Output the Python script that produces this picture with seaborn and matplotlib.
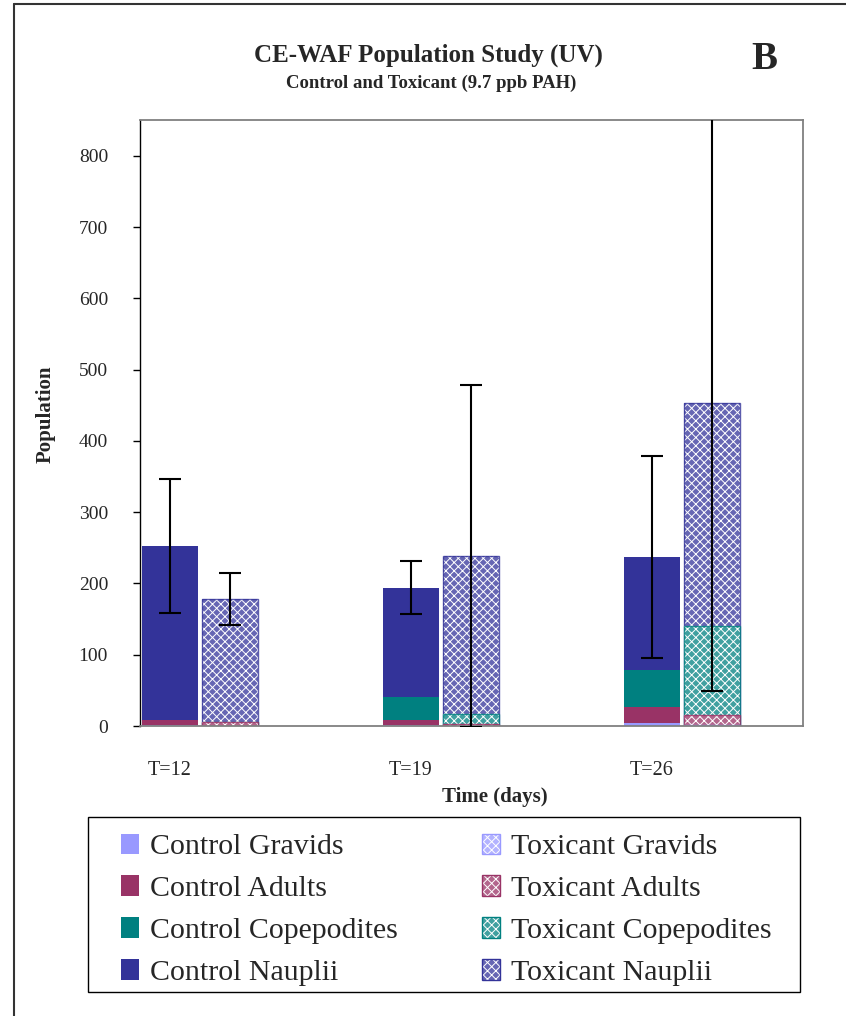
import numpy as np
import pandas as pd
import seaborn as sns
import matplotlib.pyplot as plt
import matplotlib.patches as mpatches
from matplotlib.colors import to_rgb
from matplotlib.lines import Line2D
from matplotlib.legend_handler import HandlerTuple

# donnees
times = ["T=12", "T=19", "T=26"]
groups = ["Control", "Toxicant"]
stages = ["Gravids", "Adults", "Copepodites", "Nauplii"]

control_gravids = [1, 1, 4]
control_adults = [8, 8, 22]
control_copepodites = [0, 32, 52]
control_nauplii = [244, 153, 159]

toxicant_gravids = [0, 0, 1]
toxicant_adults = [6, 3, 15]
toxicant_copepodites = [0, 14, 124]
toxicant_nauplii = [172, 221, 313]

control_err = [94, 37, 142]
toxicant_err = [36, 240, 404]

colors = {"Gravids": "#9999FF", "Adults": "#993366",
          "Copepodites": "#008080", "Nauplii": "#333399"}

sns.set_style("white")
plt.rcParams['font.family'] = ['Liberation Serif', 'DejaVu Serif']
plt.rcParams['hatch.linewidth'] = 0.7
HATCH = "xxxx"


def lighter(c, f=0.25):
    r = np.array(to_rgb(c))
    return tuple(r + (1 - r) * f)


# table longue avec les valeurs cumulees
rows = []
ctrl = [control_gravids, control_adults, control_copepodites, control_nauplii]
tox = [toxicant_gravids, toxicant_adults, toxicant_copepodites, toxicant_nauplii]
for g, layers in zip(groups, [ctrl, tox]):
    cum = np.cumsum(np.array(layers), axis=0)
    for si, s in enumerate(stages):
        for ti, t in enumerate(times):
            rows.append({"time": t, "group": g, "stage": s, "cum": cum[si, ti]})
df = pd.DataFrame(rows)

fig = plt.figure(figsize=(8.46, 10.16), dpi=100)
ax = fig.add_axes([0.1655, 0.2854, 0.7837, 0.5964])

# on dessine du haut vers le bas pour empiler
for s in reversed(stages):
    sub = df[df["stage"] == s]
    c = colors[s]
    sns.barplot(data=sub, x="time", y="cum", hue="group", hue_order=groups,
                order=times, palette=[c, c], width=0.5, gap=0.08, dodge=True,
                saturation=1, linewidth=0, legend=False, errorbar=None, ax=ax)
    for p in ax.containers[-1]:
        p.set_facecolor(lighter(c))
        p.set_edgecolor("white")
        p.set_linewidth(0)
        p.set_hatch(HATCH)
        ax.add_patch(mpatches.Rectangle((p.get_x(), p.get_y()), p.get_width(),
                                        p.get_height(), fill=False,
                                        edgecolor=c, lw=1.0, alpha=0.8))

# barres d'erreur au sommet des piles
top = df[df["stage"] == "Nauplii"]
first = ax.containers[0], ax.containers[1]
for cont, g, err in zip(first, groups, [control_err, toxicant_err]):
    xs = [p.get_x() + p.get_width() / 2 for p in cont]
    ys = top[top["group"] == g].set_index("time").loc[times, "cum"].values
    ax.errorbar(xs, ys, yerr=err, fmt="none", ecolor="black", elinewidth=1.5,
                capsize=8, capthick=1.5, zorder=5)

ax.set_ylim(0, 850)
ax.set_xlim(-0.249, 2.502)
ax.set_yticks(range(0, 900, 100))
ax.set_xticks([i - 0.125 for i in range(3)])
ax.set_xticklabels(times)
ax.tick_params(axis="y", direction="out", length=5, width=1, color="black",
               labelsize=14, pad=18, left=True)
ax.tick_params(axis="x", length=0, labelsize=14.5, pad=25)

for side in ["top", "right", "bottom"]:
    ax.spines[side].set_color("#808080")
    ax.spines[side].set_linewidth(1.3)
ax.spines["left"].set_color("black")
ax.spines["left"].set_linewidth(1.0)

ax.set_xlabel("Time (days)", fontsize=15, fontweight="bold")
ax.xaxis.set_label_coords(0.535, -0.1005)
ax.set_ylabel("Population", fontsize=15, fontweight="bold")
ax.yaxis.set_label_coords(-0.128, 0.514)

fig.text(0.506, 0.946, "CE-WAF Population Study (UV)", ha="center", va="center",
         fontsize=18, fontweight="bold")
fig.text(0.51, 0.918, "Control and Toxicant (9.7 ppb PAH)", ha="center",
         va="center", fontsize=13.5, fontweight="bold")
fig.text(0.903, 0.941, "B", ha="center", va="center", fontsize=28,
         fontweight="bold")

# legende : cadre dessine a part
fig.add_artist(mpatches.Rectangle((0.104, 0.0236), 0.8416, 0.172,
                                  transform=fig.transFigure, fill=False,
                                  edgecolor="black", lw=1.0))
handles, labels = [], []
for s in stages:
    handles.append(mpatches.Patch(facecolor=colors[s], lw=0))
    labels.append("Control " + s)
for s in stages:
    h1 = mpatches.Patch(facecolor=lighter(colors[s]), edgecolor="white",
                        hatch=HATCH, lw=0)
    h2 = mpatches.Patch(fill=False, edgecolor=colors[s], lw=1.0)
    handles.append((h1, h2))
    labels.append("Toxicant " + s)
leg = fig.legend(handles, labels, ncol=2, loc="center left",
                 bbox_to_anchor=(0.143, 0.1046), fontsize=21.5, frameon=False,
                 handlelength=0.6, handleheight=0.7, handletextpad=0.38,
                 labelspacing=0.5, borderaxespad=0, borderpad=0,
                 columnspacing=2.8,
                 handler_map={tuple: HandlerTuple(ndivide=1)})

# cadre exterieur
fig.add_artist(Line2D([0.0165, 0.0165], [0, 0.996], color="#333333", lw=1.5))
fig.add_artist(Line2D([0.0165, 1.0], [0.996, 0.996], color="#333333", lw=1.5))

fig.savefig("out.png", dpi=100)
